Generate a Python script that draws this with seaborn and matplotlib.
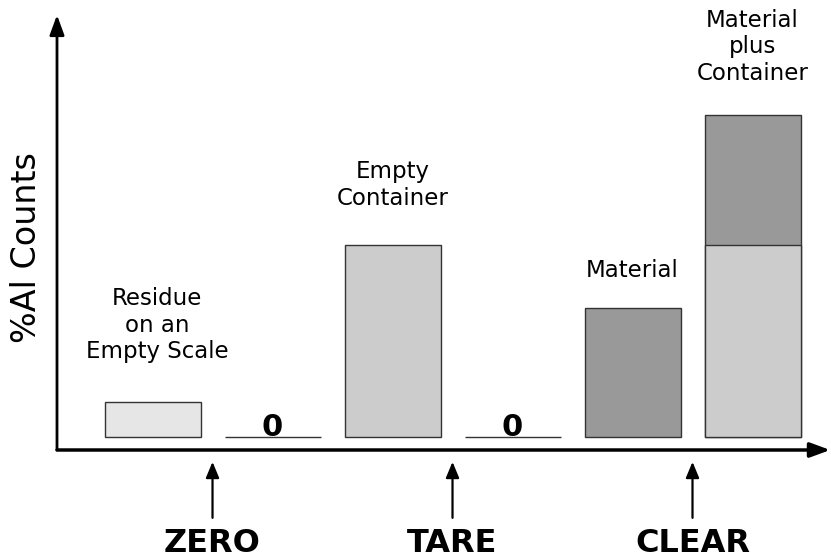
import numpy as np
import pandas as pd
import seaborn as sns
import matplotlib
matplotlib.use("Agg")
import matplotlib.pyplot as plt

sns.set_theme(style="white")
plt.rcParams['font.family'] = ['DejaVu Sans']

# ---- data ----
categories = ["Residue", "Zero A", "Container", "Zero B", "Material", "Material+Container"]
base_values = [10, 0, 55, 0, 37, 55]          # front (lower) segments
stack_category = ["Material+Container"]
stack_total = [92]                              # container + material
bar_colors = ["#e6e6e6", "#cccccc", "#cccccc", "#cccccc", "#999999", "#cccccc"]
stack_color = "#999999"

bar_labels = ["Residue\non an\nEmpty Scale", "", "Empty\nContainer", "", "Material",
              "Material\nplus\nContainer"]
zero_labels = ["", "0", "", "0", "", ""]
actions = ["ZERO", "TARE", "CLEAR"]
action_pos = [0.5, 2.5, 4.5]
ylabel = "%Al Counts"

# ---- figure ----
W, H = 831, 559
fig = plt.figure(figsize=(W / 100, H / 100), dpi=100)
ax = fig.add_axes([57 / W, (H - 450) / H, (826 - 57) / W, (450 - 15) / H])

df_base = pd.DataFrame({"cat": categories, "val": base_values})
df_stack = pd.DataFrame({"cat": stack_category, "val": stack_total})

sns.barplot(data=df_stack, x="cat", y="val", order=categories, color=stack_color,
            saturation=1, width=0.8, edgecolor="#333333", linewidth=1, ax=ax)
sns.barplot(data=df_base, x="cat", y="val", order=categories, hue="cat",
            palette=dict(zip(categories, bar_colors)), legend=False,
            saturation=1, width=0.8, edgecolor="#333333", linewidth=1, ax=ax)

ax.set_xlim(-0.796, 5.6125)
ax.set_ylim(-3.71, 120.6)
ax.axis("off")

# axes arrows
ax.annotate("", xy=(0, 1), xytext=(0, 0), xycoords="axes fraction",
            arrowprops=dict(arrowstyle="-|>,head_length=0.6,head_width=0.22",
                            mutation_scale=20, lw=2, color="black",
                            shrinkA=0, shrinkB=0), annotation_clip=False)
ax.annotate("", xy=(1.0055, 0), xytext=(0, 0), xycoords="axes fraction",
            arrowprops=dict(arrowstyle="-|>,head_length=0.6,head_width=0.22",
                            mutation_scale=20, lw=2.5, color="black",
                            shrinkA=0, shrinkB=0), annotation_clip=False)

# bar labels
label_y = [32, None, 72, None, 47.7, 111.5]
label_dx = [0.04, 0, 0, 0, 0, 0]
for i, (lab, ly) in enumerate(zip(bar_labels, label_y)):
    if lab:
        ax.text(i + label_dx[i], ly, lab, ha="center", va="center", fontsize=16.5,
                linespacing=1.2, color="black")
for i, z in enumerate(zero_labels):
    if z:
        ax.text(i, 0.2, z, ha="center", va="baseline", fontsize=22,
                fontweight="bold", color="black")

# action arrows and labels
for pos, act in zip(action_pos, actions):
    ax.annotate("", xy=(pos, -7.1), xytext=(pos, -23.1), xycoords="data",
                arrowprops=dict(arrowstyle="-|>,head_length=0.6,head_width=0.25",
                                mutation_scale=16, lw=1.6, color="black",
                                shrinkA=0, shrinkB=0), annotation_clip=False)
    ax.text(pos, -33.0, act, ha="center", va="baseline", fontsize=23,
            fontweight="bold", color="black", clip_on=False)

fig.text(27 / W, 1 - 248 / H, ylabel, rotation=90, ha="center", va="center",
         fontsize=24, color="black")

fig.savefig("out.png", dpi=100)
